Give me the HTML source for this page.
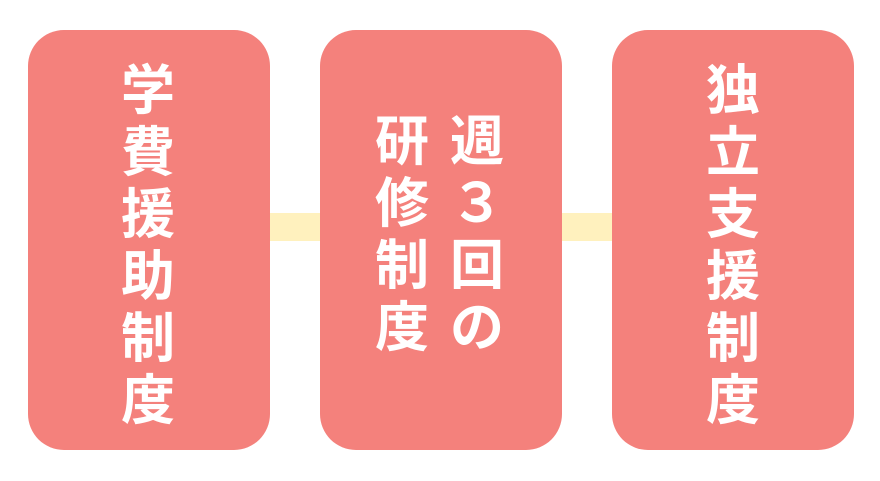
<!DOCTYPE html>
<html><head><meta charset="utf-8"><style>
body{margin:0;width:880px;height:481px;background:#fff;position:relative;overflow:hidden;font-family:"Liberation Sans","Noto Sans CJK JP",sans-serif}
.b{position:absolute;top:30px;width:242px;height:420px;background:#F4817C;border-radius:36px}
.c{position:absolute;top:213px;height:28px;background:#FFF1BE}
.col{position:absolute;width:64px;text-align:center;color:#fff;font-weight:bold;font-size:54px;line-height:62px}
</style></head><body>
<div class="c" style="left:268px;width:54px"></div>
<div class="c" style="left:560px;width:54px"></div>
<div class="b" style="left:28px"></div>
<div class="b" style="left:320px"></div>
<div class="b" style="left:612px"></div>
<div class="col" style="left:116px;top:60px">学<br>費<br>援<br>助<br>制<br>度</div>
<div class="col" style="left:370px;top:111px">研<br>修<br>制<br>度</div>
<div class="col" style="left:445px;top:111px">週<br>３<br>回<br>の</div>
<div class="col" style="left:701px;top:60px">独<br>立<br>支<br>援<br>制<br>度</div>
</body></html>
